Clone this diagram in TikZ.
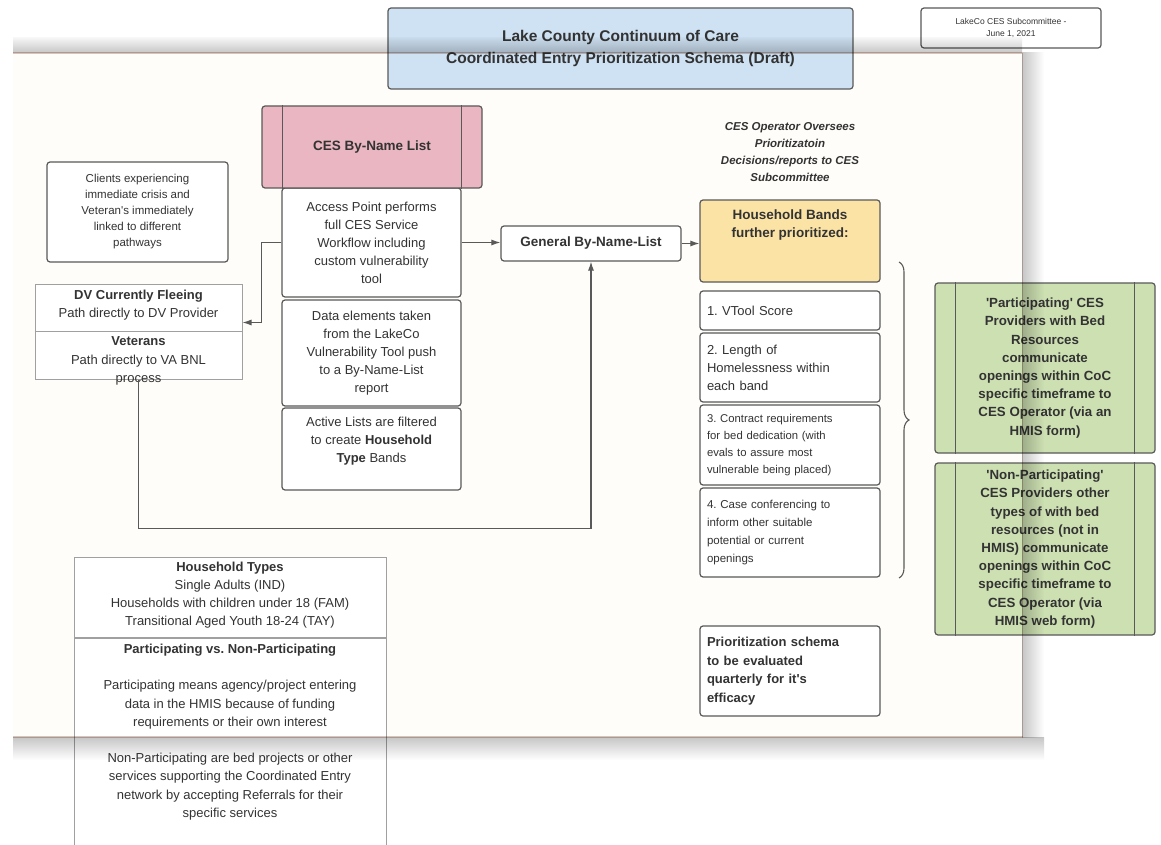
\documentclass[tikz,border=0pt]{standalone}
\usepackage{fontspec}
\setmainfont{Liberation Sans}
\usetikzlibrary{arrows.meta,decorations.pathreplacing,calc}
\definecolor{titleblue}{HTML}{CFE2F3}
\definecolor{pinkfill}{HTML}{E9B6C2}
\definecolor{yellowfill}{HTML}{FBE3A6}
\definecolor{greenfill}{HTML}{CDE0B2}
\definecolor{linegray}{HTML}{595959}
\definecolor{lightline}{HTML}{A0A0A0}
\definecolor{txt}{HTML}{333333}
\definecolor{pagecol}{HTML}{FFFDF9}
\definecolor{edgecol}{HTML}{D8C6BE}
\frenchspacing
\begin{document}
\begin{tikzpicture}[x=1pt,y=-1pt,
  box/.style={draw=linegray, line width=1.2pt, rounded corners=3pt, fill=white, text=txt,
    inner sep=2pt, align=center, font=\fontsize{13}{18}\selectfont},
  sqbox/.style={draw=lightline, line width=1pt, fill=white, text=txt, inner sep=2pt, align=center},
  txtnode/.style={text=txt, inner sep=0pt, align=center},
  lbox/.style={box, align=left, text width=166pt},
  conn/.style={draw=linegray, line width=1.1pt, -{Latex[length=9pt,width=6pt]}},
  sep/.style={draw=linegray, line width=1.1pt}
]
\useasboundingbox (0,0) rectangle (1161,845);
\fill[white] (0,0) rectangle (1161,845);
% page
\fill[pagecol] (13,53) rectangle (1022,737);

% title and date
\node[box, fill=titleblue, minimum width=465pt, minimum height=81pt,
  font=\bfseries\fontsize{15.5}{22}\selectfont] (title) at (620.5,48.5)
  {Lake County Continuum of Care\\Coordinated Entry Prioritization Schema (Draft)};
\node[box, minimum width=180pt, minimum height=40pt, font=\fontsize{8.5}{12}\selectfont] (date) at (1011,28)
  {LakeCo CES Subcommittee -\\June 1, 2021};

% central column
\node[box, minimum width=179pt, minimum height=109pt] (ap) at (371.5,242.5)
  {Access Point performs\\full CES Service\\Workflow including\\custom vulnerability\\tool};
\node[box, fill=pinkfill, minimum width=220pt, minimum height=82pt,
  font=\bfseries\fontsize{13.5}{18}\selectfont] (bnl) at (372,147) {CES By-Name List};
\draw[sep] ([xshift=21pt]bnl.north west) -- ([xshift=21pt]bnl.south west);
\draw[sep] ([xshift=-21pt]bnl.north east) -- ([xshift=-21pt]bnl.south east);
\node[box, minimum width=179pt, minimum height=106pt] (de) at (371.5,353)
  {Data elements taken\\from the LakeCo\\Vulnerability Tool push\\to a By-Name-List\\report};
\node[box, minimum width=179pt, minimum height=82pt] (al) at (371.5,449) {};
\node[txtnode, font=\fontsize{13}{18}\selectfont] (altext) at (371.5,441)
  {Active Lists are filtered\\to create \textbf{Household}\\\textbf{Type} Bands};

% left side
\node[box, minimum width=181pt, minimum height=100pt, font=\fontsize{11.5}{16}\selectfont] (cl) at (137.5,212)
  {Clients experiencing\\immediate crisis and\\Veteran\textquotesingle s immediately\\linked to different\\pathways};
\node[sqbox, minimum width=207pt, minimum height=95pt] (dv) at (138.5,331.5) {};
\draw[draw=lightline, line width=1pt] (dv.west) -- (dv.east);
\node[txtnode, font=\fontsize{13}{18}\selectfont] (dvtext) at (138.5,305)
  {\textbf{DV Currently Fleeing}\\Path directly to DV Provider};
\node[txtnode, font=\fontsize{13}{18.5}\selectfont] (vettext) at (138.5,361)
  {\textbf{Veterans}\\Path directly to VA BNL\\process};

% general list
\node[box, minimum width=180pt, minimum height=35pt, font=\bfseries\fontsize{13.5}{18}\selectfont] (gbl) at (591,243.5)
  {General By-Name-List};

% right column
\node[txtnode, font=\bfseries\itshape\fontsize{11.5}{17}\selectfont] (op) at (790,152)
  {CES Operator Oversees\\Prioritizatoin\\Decisions/reports to CES\\Subcommittee};
\node[box, fill=yellowfill, minimum width=180pt, minimum height=82pt] (hb) at (790,241) {};
\node[txtnode, font=\bfseries\fontsize{13.5}{18.5}\selectfont] (hbtext) at (790,225)
  {Household Bands\\further prioritized:};
\node[lbox, minimum width=180pt, minimum height=39pt] (i1) at (790,310.5) {1. VTool Score};
\node[lbox, minimum width=180pt, minimum height=69pt] (i2) at (790,367.5) {2. Length of\\Homelessness within\\each band};
\node[lbox, minimum width=180pt, minimum height=80pt, font=\fontsize{11.3}{16.8}\selectfont] (i3) at (790,445)
  {3. Contract requirements\\for bed dedication (with\\evals to assure most\\vulnerable being placed)};
\node[lbox, minimum width=180pt, minimum height=89pt, font=\fontsize{11.5}{17.8}\selectfont] (i4) at (790,532.5)
  {4. Case conferencing to\\inform other suitable\\potential or current\\openings};
\node[lbox, minimum width=180pt, minimum height=90pt, font=\bfseries\fontsize{13}{18.7}\selectfont] (pr) at (790,671)
  {Prioritization schema\\to be evaluated\\quarterly for it\textquotesingle s\\efficacy};

% brace
\coordinate (bt) at (899,262);
\coordinate (bb) at (899,578);
\draw[linegray, line width=1.1pt, decorate, decoration={brace, amplitude=10pt}] (bt) -- (bb);

% green providers
\node[box, fill=greenfill, minimum width=220pt, minimum height=170pt, font=\bfseries\fontsize{13.3}{18.2}\selectfont] (g1) at (1045,368)
  {\textquotesingle Participating\textquotesingle\ CES\\Providers with Bed\\Resources\\communicate\\openings within CoC\\specific timeframe to\\CES Operator (via an\\HMIS form)};
\draw[sep] ([xshift=21pt]g1.north west) -- ([xshift=21pt]g1.south west);
\draw[sep] ([xshift=-21pt]g1.north east) -- ([xshift=-21pt]g1.south east);
\node[box, fill=greenfill, minimum width=220pt, minimum height=172pt, font=\bfseries\fontsize{13.3}{18.2}\selectfont] (g2) at (1045,549)
  {\textquotesingle Non-Participating\textquotesingle\\CES Providers other\\types of with bed\\resources (not in\\HMIS) communicate\\openings within CoC\\specific timeframe to\\CES Operator (via\\HMIS web form)};
\draw[sep] ([xshift=21pt]g2.north west) -- ([xshift=21pt]g2.south west);
\draw[sep] ([xshift=-21pt]g2.north east) -- ([xshift=-21pt]g2.south east);

% bottom-left legend
\node[sqbox, minimum width=312pt, minimum height=80pt] (ht) at (230,597) {};
\node[txtnode, font=\fontsize{13}{18}\selectfont] (httext) at (230,595)
  {\textbf{Household Types}\\Single Adults (IND)\\Households with children under 18 (FAM)\\Transitional Aged Youth 18-24 (TAY)};
\node[sqbox, minimum width=312pt, minimum height=220pt] (pv) at (230,748) {};
\node[txtnode, font=\fontsize{13}{18.2}\selectfont] (pvtext) at (230,732)
  {\textbf{Participating vs. Non-Participating}\\[18.2pt]Participating means agency/project entering\\data in the HMIS because of funding\\requirements or their own interest\\[18.2pt]Non-Participating are bed projects or other\\services supporting the Coordinated Entry\\network by accepting Referrals for their\\specific services};

% connectors
\draw[conn] (ap.west) -- ++(-20,0) |- ([yshift=9pt]dv.east);
\draw[conn] (dv.south) -- ++(0,149) -| (gbl.south);
\draw[conn] (ap.east) -- (ap.east -| gbl.west);
\draw[conn] (gbl.east) -- (gbl.east -| hb.west);

% page shadows (photo artefacts)
\begin{scope}[blend mode=multiply]
\shade[top color=gray!8, bottom color=gray!45] (13,38) rectangle (1022,53);
\fill[edgecol] (13,52.5) rectangle (1022,54);
\shade[left color=gray!45, right color=white] (1022,53) rectangle (1044,737);
\fill[edgecol] (1021.5,53) rectangle (1023,737);
\shade[top color=gray!45, bottom color=white] (13,737) rectangle (1044,760);
\fill[edgecol] (13,736) rectangle (1023,737.5);
\end{scope}
\end{tikzpicture}
\end{document}
